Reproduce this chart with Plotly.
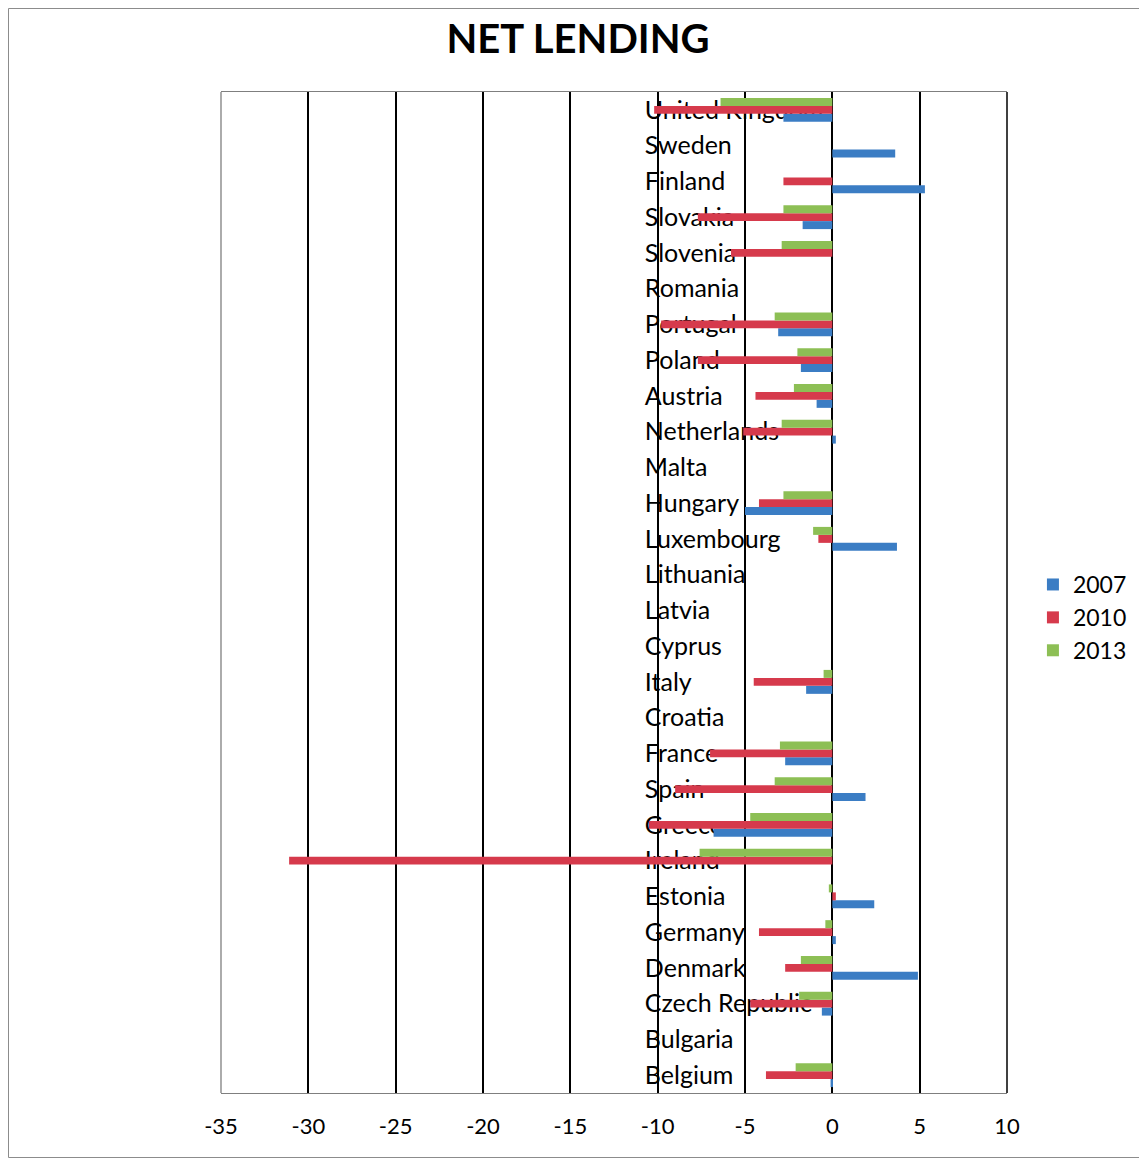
import plotly.graph_objects as go

categories = ["Belgium", "Bulgaria", "Czech Republic", "Denmark", "Germany", "Estonia",
              "Ireland", "Greece", "Spain", "France", "Croatia", "Italy", "Cyprus",
              "Latvia", "Lithuania", "Luxembourg", "Hungary", "Malta", "Netherlands",
              "Austria", "Poland", "Portugal", "Romania", "Slovenia", "Slovakia",
              "Finland", "Sweden", "United Kingdom"]

v2007 = [-0.1, 0, -0.6, 4.9, 0.2, 2.4, 0, -6.8, 1.9, -2.7, 0, -1.5, 0, 0, 0, 3.7,
         -5.0, 0, 0.2, -0.9, -1.8, -3.1, 0, 0, -1.7, 5.3, 3.6, -2.8]
v2010 = [-3.8, 0, -4.7, -2.7, -4.2, 0.2, -31.1, -10.5, -9.0, -7.0, 0, -4.5, 0, 0, 0, -0.8,
         -4.2, 0, -5.1, -4.4, -7.7, -9.8, 0, -5.8, -7.7, -2.8, 0, -10.2]
v2013 = [-2.1, 0, -1.9, -1.8, -0.4, -0.2, -7.6, -4.7, -3.3, -3.0, 0, -0.5, 0, 0, 0, -1.1,
         -2.8, 0, -2.9, -2.2, -2.0, -3.3, 0, -2.9, -2.8, 0, 0, -6.4]

x_ticks = [-35, -30, -25, -20, -15, -10, -5, 0, 5, 10]
x_tick_labels = ["-35", "-30", "-25", "-20", "-15", "-10", "-5", "0", "5", "10"]

series = [("2007", v2007, "#3B7DC4"), ("2010", v2010, "#D63A4C"), ("2013", v2013, "#8DBF55")]

FONT = "Lato, Calibri, sans-serif"

W, H = 1139, 1151
L, T, PW, PH = 213, 84, 786, 1001

fig = go.Figure()
for name, vals, col in series:
    fig.add_trace(go.Bar(y=categories, x=vals, name=name, orientation="h",
                         marker=dict(color=col, line=dict(width=0))))

fig.update_layout(
    width=W, height=H,
    paper_bgcolor="white", plot_bgcolor="white",
    margin=dict(l=L, r=W - L - PW, t=T, b=H - T - PH, pad=0, autoexpand=False),
    barmode="group", bargap=0.33, bargroupgap=0,
    font=dict(family=FONT, color="black"),
    title=dict(text="<b>NET LENDING</b>", x=570 / W, xref="container", xanchor="center",
               y=1 - 31 / H, yref="container", yanchor="middle",
               font=dict(size=40, family=FONT, color="black")),
    legend=dict(x=1.033, y=0.475, xanchor="left", yanchor="middle",
                font=dict(size=23, family=FONT), traceorder="normal",
                itemwidth=30, tracegroupgap=0, bgcolor="rgba(0,0,0,0)"),
    showlegend=True,
)

fig.update_xaxes(range=[-35, 10], tickvals=x_ticks, ticktext=x_tick_labels,
                 showgrid=True, gridcolor="black",
                 gridwidth=1.5, zeroline=True, zerolinecolor="black", zerolinewidth=1.5,
                 showline=True, linecolor="#7f7f7f", linewidth=1.3, mirror=True,
                 ticks="", ticklabelstandoff=13,
                 tickfont=dict(size=22, family=FONT), fixedrange=True)
fig.update_yaxes(type="category", showgrid=False, showline=False, zeroline=False,
                 ticks="", side="right", anchor="free", position=0.538,
                 layer="below traces", tickfont=dict(size=25, family=FONT),
                 automargin=False, fixedrange=True)

# plot-area side borders
fig.add_shape(type="line", xref="paper", yref="paper", x0=0, x1=0, y0=0, y1=1,
              line=dict(color="#7f7f7f", width=1.3), layer="below")
fig.add_shape(type="line", xref="paper", yref="paper", x0=1, x1=1, y0=0, y1=1,
              line=dict(color="black", width=1.5), layer="below")

# outer chart border
fig.add_shape(type="rect", xref="paper", yref="paper",
              x0=(0.5 - L) / PW, x1=(W - 1.5 - L) / PW,
              y0=(T + PH - (H - 1.5)) / PH, y1=(T + PH - 0.5) / PH,
              line=dict(color="#8c8c8c", width=1), fillcolor="rgba(0,0,0,0)", layer="below")

fig.write_html("out.html")
